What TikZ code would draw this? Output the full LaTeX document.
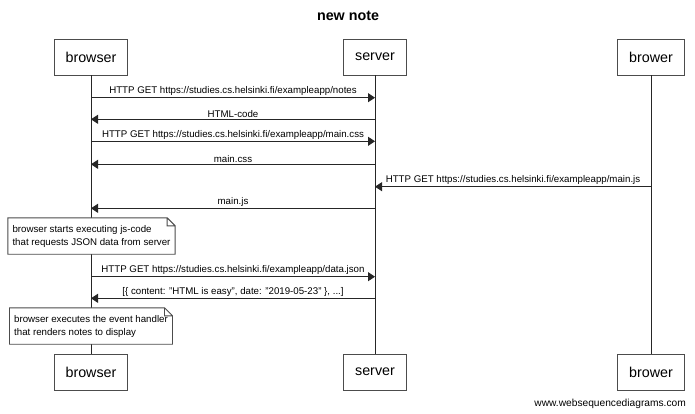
\documentclass[tikz,border=0pt]{standalone}
\usepackage{fontspec}
\setmainfont{Liberation Sans}
\usetikzlibrary{positioning,arrows.meta}

\begin{document}
\begin{tikzpicture}[x=1pt,y=-1pt,on grid,
    actor/.style={draw=black!70,line width=0.9pt,fill=white,minimum height=36pt,inner xsep=11.5pt,font=\fontsize{14.3}{17}\selectfont},
    life/.style={draw=black!85,line width=0.9pt},
    msg/.style={-{Triangle[length=7pt,width=9pt]},every edge/.style={draw=black!85,line width=0.9pt}},
    lbl/.style={above,inner sep=1.5pt,font=\fontsize{9.7}{12}\selectfont},
    note/.style={fill=white,align=left,inner xsep=4.5pt,minimum height=36pt,font=\fontsize{9.7}{13}\selectfont},
    notebox/.style={draw=black!70,line width=0.9pt}]
   \useasboundingbox (0,0) rectangle (695,414);
   \node[font=\bfseries\fontsize{14.3}{17}\selectfont,anchor=base] (title) at (348,20.8) {new note};

   \node[actor] (browser) at (91,57) {browser};
   \node[actor] (server)  [right=284pt of browser] {server};
   \node[actor] (brower)  [right=276pt of server]  {brower};
   \node[actor] (browserEnd) [below=315pt of browser] {browser};
   \node[actor] (serverEnd)  [below=315pt of server]  {server};
   \node[actor] (browerEnd)  [below=315pt of brower]  {brower};

   \draw[life] (browser) -- (browserEnd);
   \draw[life] (server)  -- (serverEnd);
   \draw[life] (brower)  -- (browerEnd);

   \foreach \i/\y in {1/97.7,2/119.3,3/141.3,4/164.3,5/186.7,6/208.3,7/276.7,8/298.3} {
     \coordinate (b\i) at (browser |- 0,\y);
     \coordinate (s\i) at (server |- 0,\y);
     \coordinate (w\i) at (brower |- 0,\y);
   }

   \path[msg]
    (b1) edge node[lbl] {HTTP GET https://studies.cs.helsinki.fi/exampleapp/notes} (s1)
    (s2) edge node[lbl] {HTML-code} (b2)
    (b3) edge node[lbl] {HTTP GET https://studies.cs.helsinki.fi/exampleapp/main.css} (s3)
    (s4) edge node[lbl] {main.css} (b4)
    (w5) edge node[lbl] {HTTP GET https://studies.cs.helsinki.fi/exampleapp/main.js} (s5)
    (s6) edge node[lbl] {main.js} (b6)
    (b7) edge node[lbl] {HTTP GET https://studies.cs.helsinki.fi/exampleapp/data.json} (s7)
    (s8) edge node[lbl] {[\{ content: "HTML is easy", date: "2019-05-23" \}, ...]} (b8);

   \node[note] (jsnote) at (91.5,236) {browser starts executing js-code\\that requests JSON data from server};
   \node[note] (rendernote) at (91,326) {browser executes the event handler\\that renders notes to display};
   \foreach \n in {jsnote,rendernote}
     \draw[notebox] (\n.north west) -- ([xshift=-8pt]\n.north east) -- ([yshift=-8pt]\n.north east)
       -- (\n.south east) -- (\n.south west) -- cycle
       ([xshift=-8pt]\n.north east) |- ([yshift=-8pt]\n.north east);

   \node[anchor=east,inner sep=0pt,font=\fontsize{10.2}{12}\selectfont] (site) at (686,404) {www.websequencediagrams.com};
\end{tikzpicture}
\end{document}
